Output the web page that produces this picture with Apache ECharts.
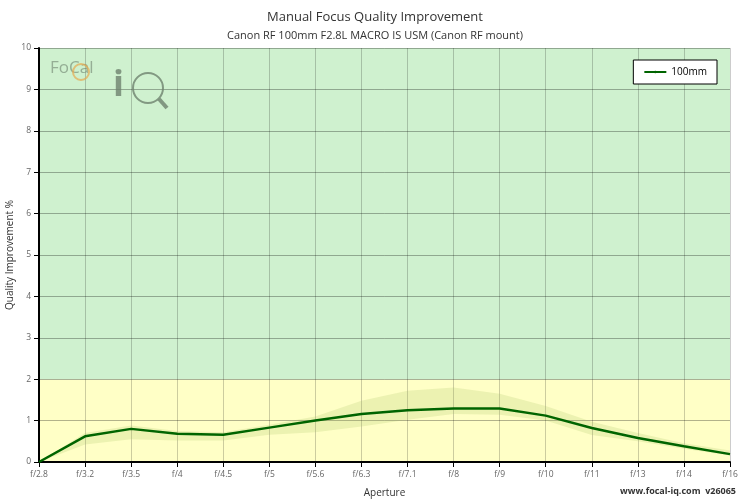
<!DOCTYPE html><html><head><meta charset="utf-8"><script src="https://cdn.jsdelivr.net/npm/echarts@6/dist/echarts.min.js"></script>
<style>body{margin:0}#c{width:750px;height:500px}</style></head><body><div id="c"></div><script>
const categories=['f/2.8','f/3.2','f/3.5','f/4','f/4.5','f/5','f/5.6','f/6.3','f/7.1','f/8','f/9','f/10','f/11','f/13','f/14','f/16'];
const values100=[0,0.62,0.8,0.68,0.66,0.83,1.0,1.16,1.25,1.29,1.29,1.12,0.82,0.58,0.38,0.19];
const bandUpper=[0,0.7,0.88,0.75,0.72,0.9,1.1,1.48,1.72,1.8,1.65,1.35,0.97,0.7,0.45,0.28];
const bandLower=[0,0.42,0.55,0.52,0.52,0.66,0.72,0.86,1.02,1.16,1.14,1.0,0.65,0.5,0.32,0.16];
const yTicks=[0,1,2,3,4,5,6,7,8,9,10];
const c=echarts.init(document.getElementById('c'));
const F='"Open Sans",sans-serif';
c.setOption({
 animation:false,
 title:{text:'Manual Focus Quality Improvement',subtext:'Canon RF 100mm F2.8L MACRO IS USM (Canon RF mount)',left:'center',top:6,itemGap:6,
  textStyle:{fontFamily:F,fontSize:13,fontWeight:'normal',color:'#333'},subtextStyle:{fontFamily:F,fontSize:11,color:'#333'}},
 legend:{data:['100mm'],right:33,top:60,orient:'vertical',borderColor:'#000',borderWidth:1,padding:[7,10],itemWidth:22,itemHeight:3,
  textStyle:{fontFamily:F,fontSize:10,color:'#000'},backgroundColor:'#fff'},
 grid:{left:39,right:20,top:48,bottom:38,outerBoundsMode:'none'},
 xAxis:{type:'category',data:categories,boundaryGap:false,name:'Aperture',nameLocation:'middle',nameGap:26,
  nameTextStyle:{fontFamily:F,fontSize:10,color:'#333'},
  axisLine:{lineStyle:{color:'#000',width:2}},axisTick:{show:true,length:5,lineStyle:{color:'#000'}},
  axisLabel:{fontFamily:F,fontSize:8.5,color:'#666'},splitLine:{show:true,lineStyle:{color:'rgba(0,0,0,0.2)'}}},
 yAxis:{type:'value',min:0,max:10,interval:1,name:'Quality Improvement %',nameLocation:'middle',nameGap:24,nameMoveOverlap:false,
  nameTextStyle:{fontFamily:F,fontSize:10,color:'#333'},
  axisLine:{show:true,lineStyle:{color:'#000',width:2}},axisTick:{show:true,length:5,lineStyle:{color:'#000'}},
  axisLabel:{fontFamily:F,fontSize:8.5,color:'#666',formatter:v=>yTicks.includes(v)?String(v):''},splitLine:{lineStyle:{color:'rgba(0,0,0,0.3)'}}},
 graphic:[
  {type:'text',z:100,left:50,top:60,style:{text:'FoCal',fontFamily:F,fontSize:17,fill:'rgba(110,130,110,0.6)'}},
  {type:'circle',z:100,shape:{cx:81,cy:72,r:8},style:{fill:'none',stroke:'rgba(230,170,80,0.7)',lineWidth:2}},
  {type:'text',z:100,left:113,top:68,style:{text:'i',fontFamily:F,fontSize:36,fontWeight:'bold',fill:'rgba(110,130,110,0.8)'}},
  {type:'circle',z:100,shape:{cx:148,cy:88,r:15},style:{fill:'none',stroke:'rgba(110,130,110,0.8)',lineWidth:2}},
  {type:'line',z:100,shape:{x1:159,y1:99,x2:167,y2:108},style:{stroke:'rgba(110,130,110,0.8)',lineWidth:4}},
  {type:'text',z:100,right:14,bottom:4,style:{text:'www.focal-iq.com  v26065',fontFamily:F,fontSize:9,fontWeight:'bold',fill:'#333'}}
 ],
 series:[
  {name:'lower',type:'line',data:bandLower,stack:'band',symbol:'none',lineStyle:{width:0},silent:true,z:-1,
   markArea:{silent:true,z:-1,data:[[{yAxis:0,itemStyle:{color:'#ffffc6'}},{yAxis:2}],[{yAxis:2,itemStyle:{color:'#cff1cf'}},{yAxis:10}]]}},
  {name:'band',type:'line',data:bandUpper.map((u,i)=>u-bandLower[i]),stack:'band',symbol:'none',lineStyle:{width:0},silent:true,z:2,
   areaStyle:{color:'rgba(160,190,90,0.28)'}},
  {name:'100mm',type:'line',data:values100,symbol:'none',z:5,color:'#006400',lineStyle:{color:'#006400',width:2.5}}
 ]
});
</script></body></html>
